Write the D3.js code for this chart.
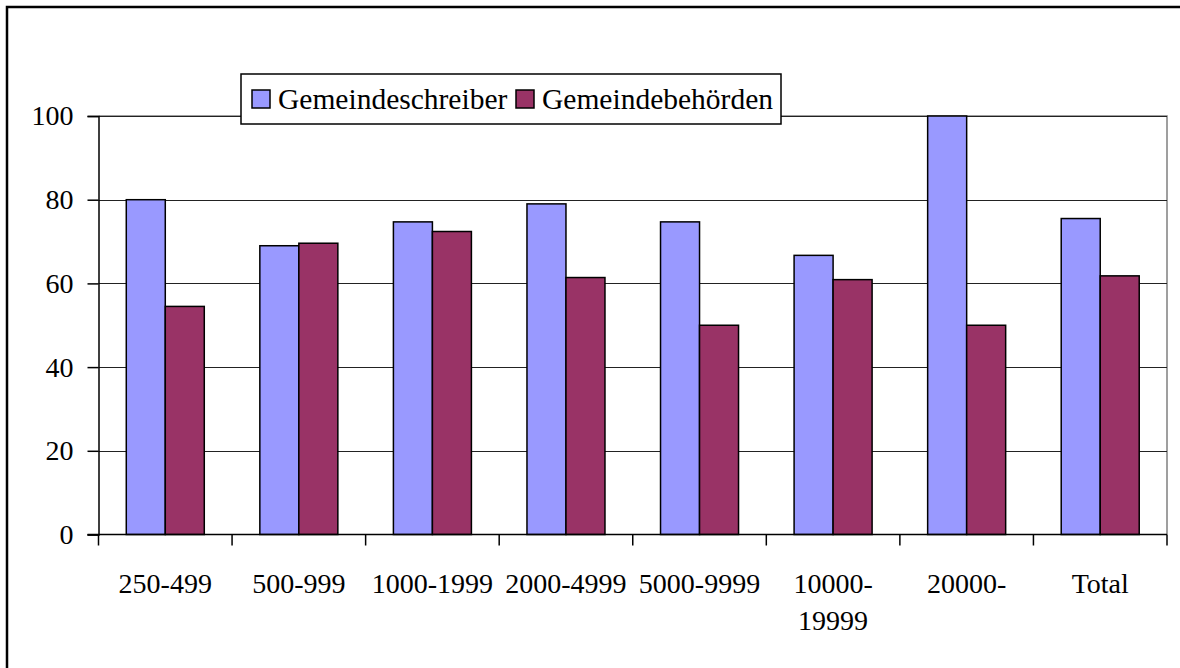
<!DOCTYPE html>
<html>
<head>
<meta charset="utf-8">
<script src="https://cdn.jsdelivr.net/npm/d3@7"></script>
<style>
  body { margin: 0; background: #fff; }
  svg text { font-family: "Liberation Serif", "Times New Roman", serif; fill: #000; }
</style>
</head>
<body>
<script>
// data
const categories = ['250-499', '500-999', '1000-1999', '2000-4999', '5000-9999', '10000-19999', '20000-', 'Total'];
const seriesNames = ['Gemeindeschreiber', 'Gemeindebehörden'];
const schreiber = [80, 69, 74.7, 79, 74.7, 66.7, 100, 75.5];
const behoerden = [54.5, 69.6, 72.4, 61.4, 50, 60.9, 50, 61.8];
const yTicks = [0, 20, 40, 60, 80, 100];
const colors = ['#9999ff', '#993366'];

const W = 1180, H = 668;
const plot = { left: 98.5, right: 1167, top: 116, bottom: 534.5 };

const svg = d3.select('body')
  .append('svg')
  .attr('width', W)
  .attr('height', H);

// outer chart border (runs off the page on right / bottom)
svg.append('rect')
  .attr('x', 7).attr('y', 7)
  .attr('width', W + 20).attr('height', H + 20)
  .attr('fill', 'none')
  .attr('stroke', '#000')
  .attr('stroke-width', 2.5);

const x = d3.scaleBand()
  .domain(categories)
  .range([plot.left, plot.right])
  .paddingInner(0.416)
  .paddingOuter(0.208);

const xInner = d3.scaleBand()
  .domain(seriesNames)
  .range([0, x.bandwidth()]);

const y = d3.scaleLinear()
  .domain([0, 100])
  .range([plot.bottom, plot.top]);

/* plot frame: top and right in grey */
svg.append('path')
  .attr('d', `M${plot.left},${plot.top}H${plot.right}V${plot.bottom}`)
  .attr('fill', 'none')
  .attr('stroke', '#808080')
  .attr('stroke-width', 1.5);

/* gridlines */
svg.append('g')
  .selectAll('line')
  .data(yTicks.filter(d => d > 0))
  .enter()
  .append('line')
  .attr('x1', plot.left)
  .attr('x2', plot.right)
  .attr('y1', d => Math.round(y(d)) + 0.5)
  .attr('y2', d => Math.round(y(d)) + 0.5)
  .attr('stroke', '#222')
  .attr('stroke-width', 1.2);

/* bars */
const rows = categories.map((c, i) => ({ cat: c, values: [schreiber[i], behoerden[i]] }));

svg.append('g')
  .selectAll('g')
  .data(rows)
  .enter()
  .append('g')
  .attr('transform', d => `translate(${x(d.cat)},0)`)
  .selectAll('rect')
  .data(d => d.values.map((v, j) => ({ name: seriesNames[j], value: v, j: j })))
  .enter()
  .append('rect')
  .attr('x', d => xInner(d.name))
  .attr('y', d => y(d.value))
  .attr('width', xInner.bandwidth())
  .attr('height', d => y(0) - y(d.value))
  .attr('fill', d => colors[d.j])
  .attr('stroke', '#000')
  .attr('stroke-width', 1.5);

/* y axis */
const yAxis = svg.append('g')
  .attr('transform', `translate(${plot.left},0)`)
  .call(d3.axisLeft(y).tickValues(yTicks).tickSize(11).tickPadding(14))
  .attr('font-family', '"Liberation Serif", serif')
  .attr('font-size', 28);
yAxis.select('.domain').attr('stroke', '#000').attr('stroke-width', 1.5);
yAxis.selectAll('.tick line').attr('stroke', '#000').attr('stroke-width', 1.5);

/* x axis: ticks at category boundaries */
const bounds = categories.map(c => x(c) - x.step() * x.paddingInner() / 2);
bounds.push(plot.right);

svg.append('line')
  .attr('x1', plot.left - 11).attr('x2', plot.right)
  .attr('y1', plot.bottom).attr('y2', plot.bottom)
  .attr('stroke', '#000').attr('stroke-width', 1.5);

svg.append('g')
  .selectAll('line')
  .data(bounds)
  .enter()
  .append('line')
  .attr('x1', d => d).attr('x2', d => d)
  .attr('y1', plot.bottom).attr('y2', plot.bottom + 11)
  .attr('stroke', '#000').attr('stroke-width', 1.5);

const labelLines = { '10000-19999': ['10000-', '19999'] };
svg.append('g')
  .selectAll('text')
  .data(categories)
  .enter()
  .append('text')
  .attr('x', d => x(d) + x.bandwidth() / 2)
  .attr('y', 593)
  .attr('text-anchor', 'middle')
  .style('font-size', '28px')
  .each(function(d) {
    const lines = labelLines[d] || [d];
    d3.select(this).selectAll('tspan')
      .data(lines)
      .enter()
      .append('tspan')
      .attr('x', x(d) + x.bandwidth() / 2)
      .attr('dy', (l, i) => i === 0 ? 0 : 37)
      .text(l => l);
  });

/* legend */
const legend = svg.append('g');
legend.append('rect')
  .attr('x', 241).attr('y', 74)
  .attr('width', 540).attr('height', 50)
  .attr('fill', '#fff')
  .attr('stroke', '#000')
  .attr('stroke-width', 1.5);

const legendX = [252, 516];
seriesNames.forEach((name, i) => {
  legend.append('rect')
    .attr('x', legendX[i]).attr('y', 90)
    .attr('width', 18).attr('height', 18)
    .attr('fill', colors[i])
    .attr('stroke', '#000')
    .attr('stroke-width', 1.5);
  legend.append('text')
    .attr('x', legendX[i] + 26)
    .attr('y', 109)
    .style('font-size', '29.5px')
    .text(name);
});
</script>
</body>
</html>
